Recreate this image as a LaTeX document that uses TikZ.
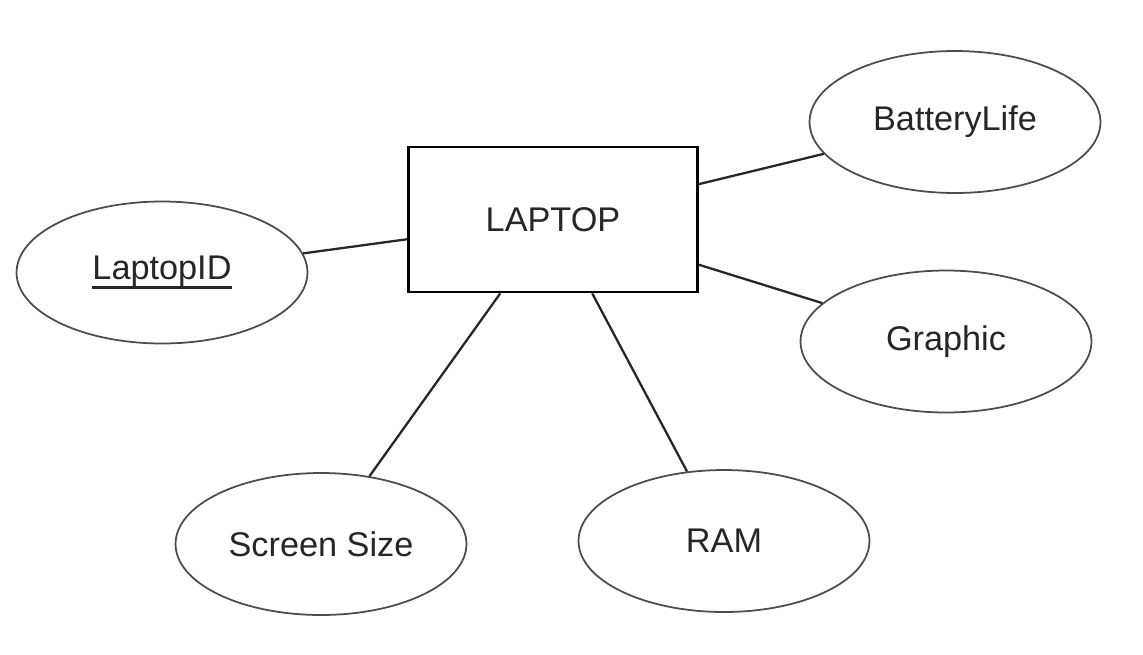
\documentclass[tikz,border=0pt]{standalone}
\usepackage{fontspec}
\setmainfont{Liberation Sans}
\usetikzlibrary{shapes.geometric}
\newcommand\keyattr[1]{\setbox0\hbox{#1}\rlap{\rule[-5.3pt]{\wd0}{1.5pt}}\box0}
\begin{document}
\begin{tikzpicture}[x=0.02cm,y=-0.02cm,
  every node/.style={font=\fontsize{19.5}{23}\selectfont, text=black!85},
  attr/.style={ellipse, draw=black!70, line width=1pt, minimum width=5.82cm, minimum height=2.84cm, inner sep=0pt},
  entity/.style={rectangle, draw=black, line width=1.6pt, minimum width=5.78cm, minimum height=2.9cm, inner sep=0pt},
  link/.style={draw=black!85, line width=1.3pt}]
\useasboundingbox[fill=white] (0,0) rectangle (1143,654);
\node[entity] (laptop) at (553,219.5) {LAPTOP};
\node[attr] (batt) at (955,122) {BatteryLife};
\node[attr] (lid) at (162,272.5) {\keyattr{LaptopID}};
\node[attr] (graphic) at (946,341.5) {Graphic};
\node[attr] (screen) at (321,544) {Screen Size};
\node[attr] (ram) at (724,541) {RAM};
\draw[link] (laptop) -- (batt);
\draw[link] (laptop) -- (lid);
\draw[link] (laptop) -- (graphic);
\draw[link] (laptop) -- (screen);
\draw[link] (laptop) -- (ram);
\end{tikzpicture}
\end{document}
